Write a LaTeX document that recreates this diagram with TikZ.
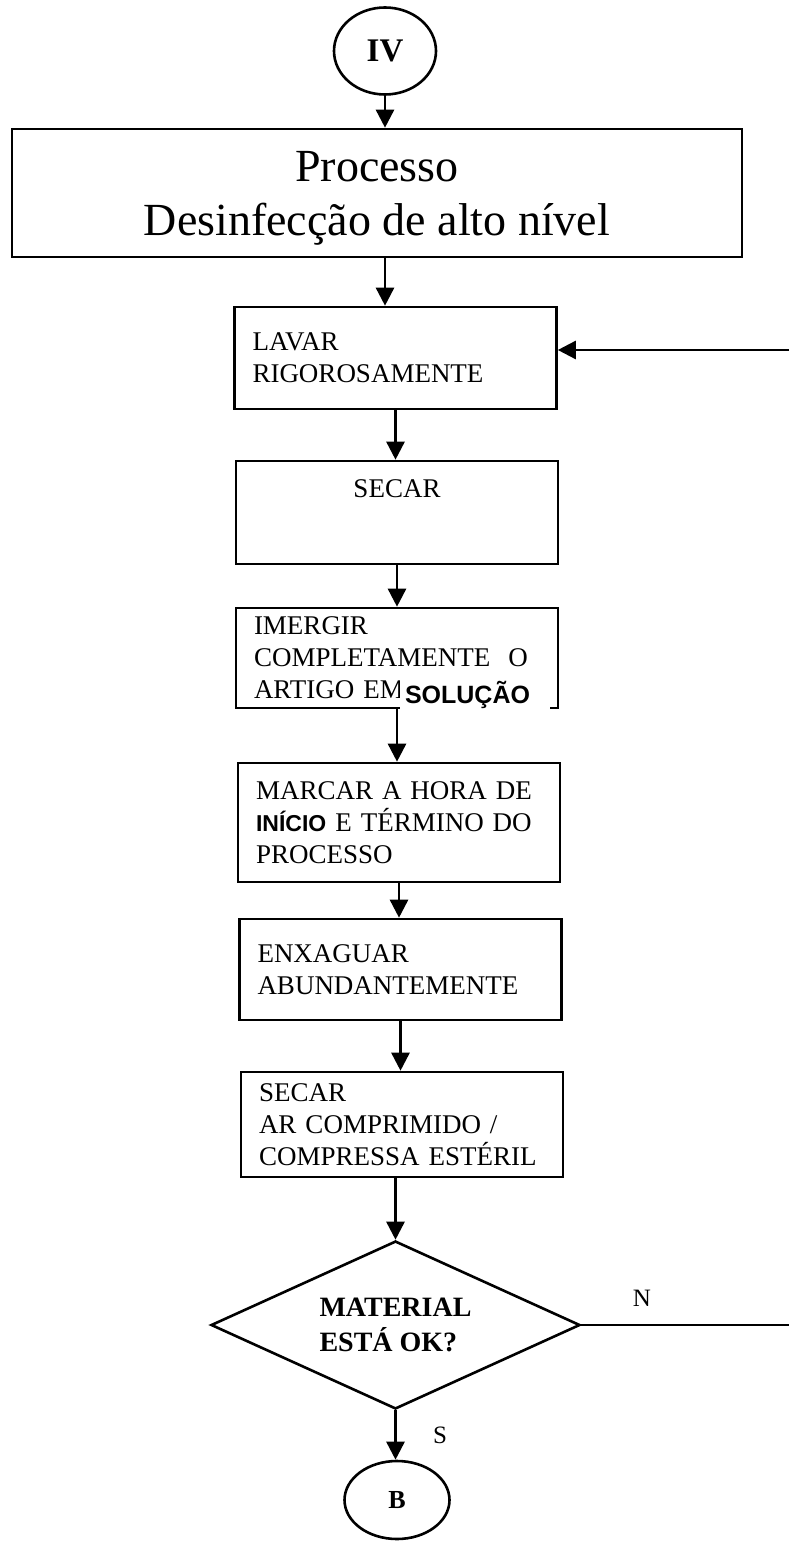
\documentclass[tikz,border=0pt]{standalone}
\usepackage{fontspec}
\setmainfont{Liberation Serif}
\setsansfont{Liberation Sans}
\usetikzlibrary{shapes.geometric,arrows.meta}

\begin{document}
\begin{tikzpicture}[x=0.5pt,y=-0.5pt,line width=1.3pt,
  box/.style={draw,rectangle,minimum width=161pt,inner xsep=9pt,text width=143pt,align=left,font=\fontsize{13.5}{16}\selectfont},
  oval/.style={draw,ellipse,inner sep=0pt},
  arr/.style={-{Triangle[length=9pt,width=9pt]}},
  lbl/.style={font=\fontsize{12.5}{14}\selectfont}]
  \useasboundingbox (0,0) rectangle (789,1545);

  \node[oval,minimum width=51pt,minimum height=43.5pt,font=\bfseries\fontsize{16.5}{18}\selectfont] (iv) at (385,51) {IV};
  \node[draw,minimum width=365pt,minimum height=64pt,align=center,text depth=0pt,font=\fontsize{23}{27}\selectfont] (proc) at (377,193) {Processo\\Desinfecção de alto nível};
  \node[box,minimum height=51pt] (lavar) at (395.5,358) {LAVAR\\RIGOROSAMENTE};
  \node[box,minimum height=51.5pt,align=center,text height=9pt,text depth=24.5pt] (secar) at (397,512.5) {SECAR};
  \node[box,minimum height=50pt] (imergir) at (397,658) {IMERGIR\\COMPLETAMENTE~~O\\ARTIGO EM};
  \node[fill=white,minimum width=75pt,minimum height=15pt,inner xsep=2.5pt,text width=70pt,align=left,text height=9pt,text depth=4pt,font=\sffamily\bfseries\fontsize{12.5}{14}\selectfont] (solucao) at (475,698) {SOLUÇÃO};
  \node[box,minimum height=59.5pt] (marcar) at (399,822.5) {MARCAR A HORA DE\\{\sffamily\bfseries\fontsize{11.5}{16}\selectfont INÍCIO}~E TÉRMINO DO\\PROCESSO};
  \node[box,minimum height=50.5pt] (enxaguar) at (400.5,969.5) {ENXAGUAR\\ABUNDANTEMENTE};
  \node[box,minimum height=52.5pt] (secarb) at (402,1124.5) {SECAR\\AR COMPRIMIDO /\\COMPRESSA ESTÉRIL};
  \node[draw,diamond,aspect=2.2,minimum width=184.5pt,minimum height=84pt,inner sep=0pt,align=left,font=\bfseries\fontsize{14}{17.5}\selectfont] (ok) at (395.5,1325) {MATERIAL\\ESTÁ OK?};
  \node[oval,minimum width=52.5pt,minimum height=39pt,font=\bfseries\fontsize{13}{15}\selectfont] (b) at (397,1500) {B};
  \node[lbl] (n) at (642,1298) {N};
  \node[lbl] (s) at (440,1435) {S};
  \coordinate (nout) at (789,1325);
  \coordinate (nin) at (789,350);

  \draw[arr] (iv) -- (iv |- proc.north);
  \draw[arr] (iv |- proc.south) -- (iv |- lavar.north);
  \draw[arr] (lavar) -- (lavar |- secar.north);
  \draw[arr] (secar) -- (secar |- imergir.north);
  \draw[arr] (imergir) -- (imergir |- marcar.north);
  \draw[arr] (marcar) -- (marcar |- enxaguar.north);
  \draw[arr] (enxaguar) -- (enxaguar |- secarb.north);
  \draw[arr] (ok |- secarb.south) -- (ok.north);
  \draw[arr] (ok.south) -- (ok.south |- b.north);
  \draw (ok) -- (nout);
  \draw[arr] (nin) -- (lavar.east |- nin);
\end{tikzpicture}
\end{document}
